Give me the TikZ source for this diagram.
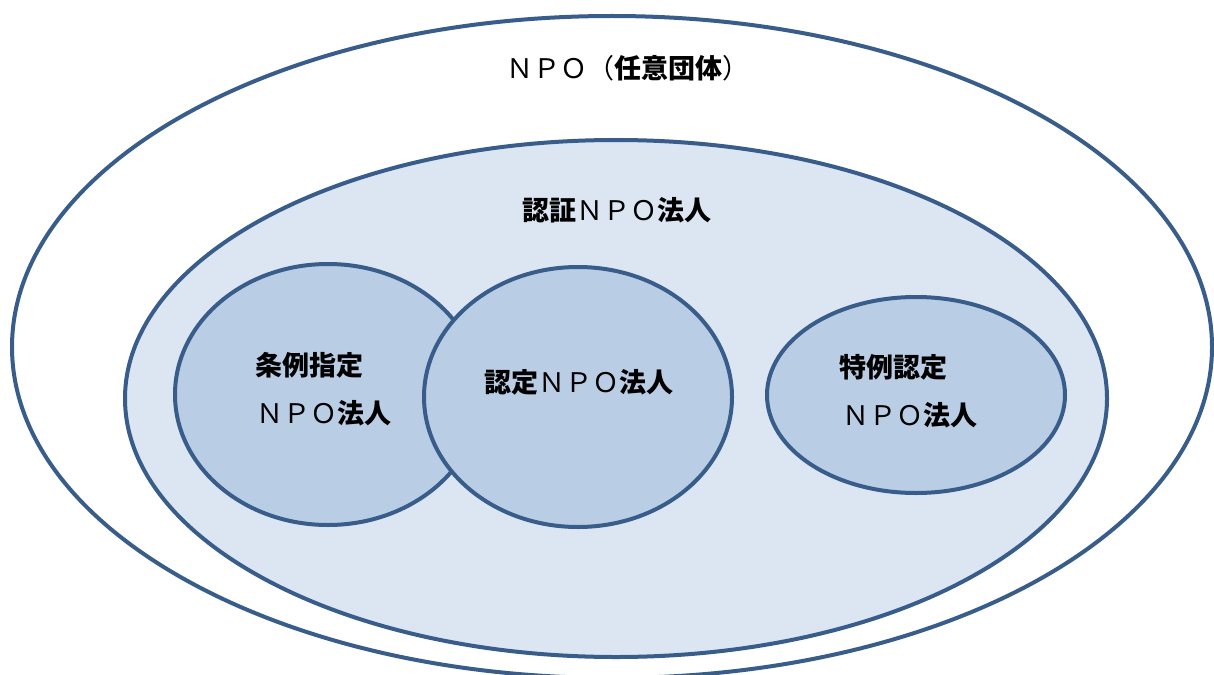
\documentclass[tikz,border=0pt]{standalone}
\usepackage{fontspec}
\setmainfont{Noto Sans CJK JP}
\usetikzlibrary{shapes.geometric}
\definecolor{edge}{HTML}{385D8A}
\definecolor{paleblue}{HTML}{DCE6F2}
\definecolor{midblue}{HTML}{B9CDE5}
\tikzset{
  region/.style={ellipse, draw=edge, line width=4pt, inner sep=0pt, outer sep=0pt},
  lbl/.style={inner sep=0pt, font=\fontsize{27}{32}\selectfont, text=black}
}
\newcommand{\kb}[1]{{\bfseries #1}}
\begin{document}
\begin{tikzpicture}[x=1pt,y=-1pt]
\useasboundingbox (0,0) rectangle (1214,674);
\fill[white] (0,0) rectangle (1214,674);
\node[region, fill=white, minimum width=1200pt, minimum height=662pt] (npo) at (612,347) {};
\node[region, fill=paleblue, minimum width=982pt, minimum height=517pt] (nintei) at (616,398.5) {};
\node[region, fill=midblue, minimum width=306pt, minimum height=261pt] (jorei) at (328,394.5) {};
\node[region, fill=midblue, minimum width=298pt, minimum height=196pt] (tokurei) at (916,395) {};
\node[region, fill=midblue, minimum width=308pt, minimum height=260pt] (nintei2) at (578,397) {};
\node[lbl] (t1) at (628,68) {ＮＰＯ（\kb{任意団体}）};
\node[lbl] (t2) at (617,210) {\kb{認証}ＮＰＯ\kb{法人}};
\node[lbl] (t3) at (309,365) {\kb{条例指定}};
\node[lbl] (t4) at (324,413) {ＮＰＯ\kb{法人}};
\node[lbl] (t5) at (579,382) {\kb{認定}ＮＰＯ\kb{法人}};
\node[lbl] (t6) at (893,367) {\kb{特例認定}};
\node[lbl] (t7) at (910,415) {ＮＰＯ\kb{法人}};
\end{tikzpicture}
\end{document}
